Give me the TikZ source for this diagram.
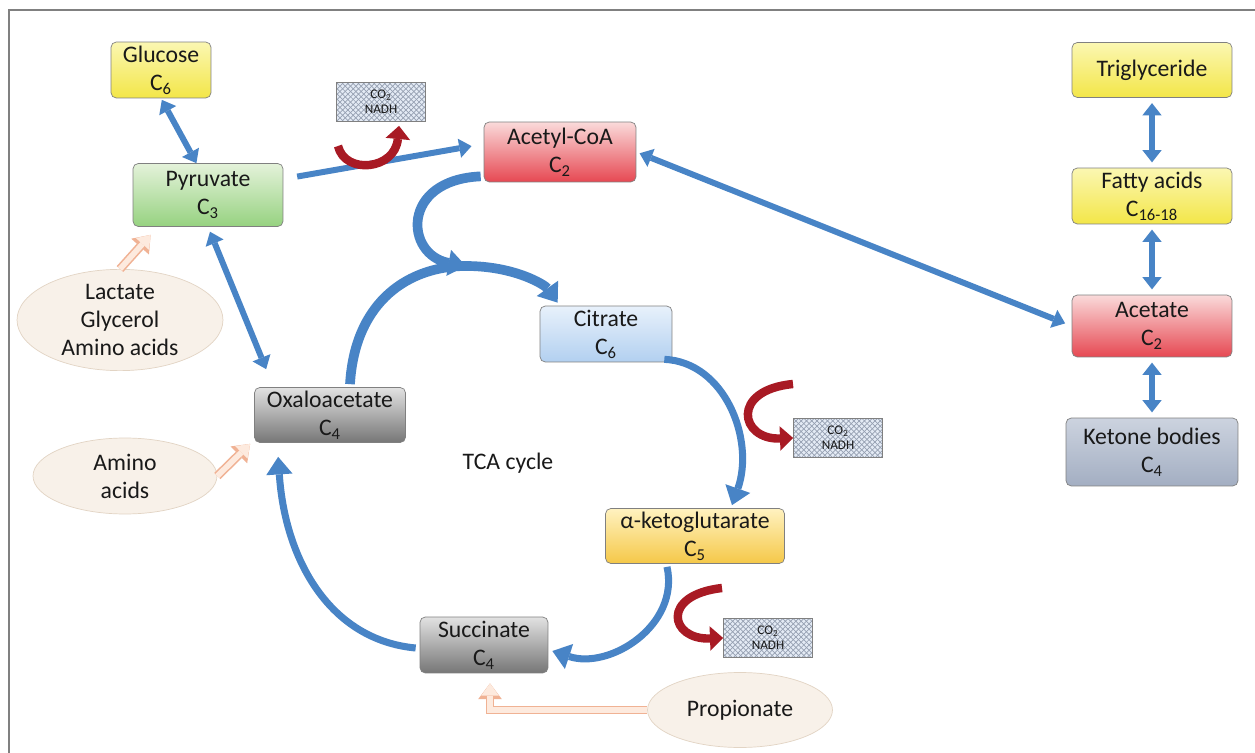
\documentclass[tikz,border=0pt]{standalone}
\usepackage{fontspec}
\setmainfont{Carlito}
\usetikzlibrary{arrows.meta, calc, patterns, shapes.geometric}

\definecolor{boxedge}{RGB}{128,128,128}
\definecolor{arrowblue}{RGB}{72,132,198}
\definecolor{arrowred}{RGB}{168,26,36}
\definecolor{feedfill}{RGB}{253,234,222}
\definecolor{feededge}{RGB}{240,178,148}
\definecolor{srcfill}{RGB}{248,241,233}
\definecolor{srcedge}{RGB}{226,212,196}
\definecolor{co2bg}{RGB}{228,235,245}
\definecolor{co2dot}{RGB}{150,160,178}

\begin{document}
\begin{tikzpicture}[x=0.02cm, y=-0.02cm,
    every node/.style={font=\fontsize{13.5}{16}\selectfont, align=center, text=black!90},
    box/.style={draw=boxedge, rounded corners=3pt, inner sep=1pt},
    yellowbox/.style={box, top color={rgb,255:red,251;green,247;blue,178}, bottom color={rgb,255:red,243;green,230;blue,72}},
    greenbox/.style={box, top color={rgb,255:red,228;green,242;blue,218}, bottom color={rgb,255:red,150;green,210;blue,128}},
    redbox/.style={box, top color={rgb,255:red,250;green,218;blue,218}, bottom color={rgb,255:red,230;green,72;blue,82}},
    bluebox/.style={box, top color={rgb,255:red,232;green,241;blue,251}, bottom color={rgb,255:red,178;green,208;blue,240}},
    graybox/.style={box, top color={rgb,255:red,226;green,226;blue,226}, bottom color={rgb,255:red,118;green,118;blue,118}},
    goldbox/.style={box, top color={rgb,255:red,255;green,242;blue,192}, bottom color={rgb,255:red,245;green,200;blue,72}},
    slatebox/.style={box, top color={rgb,255:red,204;green,211;blue,223}, bottom color={rgb,255:red,163;green,174;blue,194}},
    co2box/.style={draw=boxedge, font=\fontsize{7.5}{8.5}\selectfont, minimum width=1.78cm, minimum height=0.78cm, inner sep=0pt,
        preaction={fill=co2bg}, preaction={pattern=north west lines, pattern color=co2dot},
        pattern=north east lines, pattern color=co2dot},
    source/.style={ellipse, draw=srcedge, fill=srcfill, inner sep=0pt},
    dblarrow/.style={draw=arrowblue, line width=3.4pt,
        {Triangle[width=11pt,length=7pt,line width=0pt]}-{Triangle[width=11pt,length=7pt,line width=0pt]}},
    fwdarrow/.style={draw=arrowblue, line width=3.4pt, -{Triangle[width=11pt,length=7pt,line width=0pt]}},
    cyclearrow/.style={draw=arrowblue, line width=4pt, -{Triangle[width=15pt,length=10pt,line width=0pt]}},
    co2arrow/.style={draw=arrowred, line width=4.8pt, -{Triangle[width=14pt,length=7.5pt,line width=0pt]}},
    feedarrow/.style={draw=feedfill, line width=3.2pt, -{Triangle[width=10pt,length=7pt,line width=0pt]},
        preaction={draw=feededge, line width=5pt, -{Triangle[width=13.5pt,length=9pt,line width=0pt]}}}
  ]
  \useasboundingbox (0,0) rectangle (1255,753);
  \fill[white] (0,0) rectangle (1255,753);
  \draw[gray, line width=0.8pt] (9,753) -- (9,10) -- (1255,10);

  \node[yellowbox, minimum width=2cm, minimum height=1.12cm] (glucose) at (161,70) {Glucose\\C\textsubscript{6}};
  \node[greenbox, minimum width=3cm, minimum height=1.26cm] (pyruvate) at (208,195) {Pyruvate\\C\textsubscript{3}};
  \node[co2box] (co2a) at (381,102) {CO\textsubscript{2}\\NADH};
  \node[redbox, minimum width=3.04cm, minimum height=1.2cm] (acetyl) at (560,152) {Acetyl-CoA\\C\textsubscript{2}};
  \node[bluebox, minimum width=2.64cm, minimum height=1.12cm] (citrate) at (606,334) {Citrate\\C\textsubscript{6}};
  \node[graybox, minimum width=3.02cm, minimum height=1.1cm] (oxalo) at (330,415) {Oxaloacetate\\C\textsubscript{4}};
  \node[co2box] (co2b) at (838,438) {CO\textsubscript{2}\\NADH};
  \node[goldbox, minimum width=3.58cm, minimum height=1.1cm] (akg) at (695,536) {α-ketoglutarate\\C\textsubscript{5}};
  \node[co2box] (co2c) at (768,638) {CO\textsubscript{2}\\NADH};
  \node[graybox, minimum width=2.56cm, minimum height=1.12cm] (succinate) at (484,645) {Succinate\\C\textsubscript{4}};
  \node (tca) at (508,463) {TCA cycle};

  \node[source, minimum width=4.12cm, minimum height=2cm] (lactate) at (120,320) {Lactate\\Glycerol\\Amino acids};
  \node[source, minimum width=3.68cm, minimum height=1.52cm] (amino) at (125,476) {Amino\\acids};
  \node[source, minimum width=3.7cm, minimum height=1.5cm] (propionate) at (740,710) {Propionate};

  \node[yellowbox, minimum width=3.2cm, minimum height=1.1cm] (trig) at (1152,70) {Triglyceride};
  \node[yellowbox, minimum width=3.2cm, minimum height=1.12cm] (fatty) at (1152,196) {Fatty acids\\C\textsubscript{16-18}};
  \node[redbox, minimum width=3.2cm, minimum height=1.24cm] (acetate) at (1152,326) {Acetate\\C\textsubscript{2}};
  \node[slatebox, minimum width=3.44cm, minimum height=1.36cm] (ketone) at (1152,452) {Ketone bodies\\C\textsubscript{4}};

  \draw[dblarrow, shorten <=1pt] (glucose.south) -- (pyruvate.110);
  \draw[fwdarrow, shorten <=8pt, shorten >=7pt] (pyruvate.12) -- (acetyl.174);
  \draw[dblarrow, shorten <=2pt, shorten >=4pt] (acetyl.east) -- (acetate.west);
  \draw[dblarrow, shorten <=3pt] (pyruvate.south) -- ($(oxalo.north west)+(12,-18)$);
  \draw[dblarrow, shorten <=3pt, shorten >=3pt] (trig.south) -- (fatty.north);
  \draw[dblarrow, shorten <=3pt, shorten >=3pt] (fatty.south) -- (acetate.north);
  \draw[dblarrow, shorten <=3pt, shorten >=3pt] (acetate.south) -- (ketone.north);

  \coordinate (r1) at (338,146);
  \coordinate (r2) at (793,384);
  \coordinate (r3) at (722,588);
  \draw[co2arrow] (r1) .. controls (345,175) and (395,170) .. ($(co2a.south)+(18,4)$);
  \draw[co2arrow] (r2) .. controls (730,390) and (740,440) .. (co2b.west);
  \draw[co2arrow] (r3) .. controls (660,595) and (670,640) .. (co2c.west);

  \coordinate (join) at (466,266);
  \draw[cyclearrow, line width=5.5pt] ($(acetyl.south west)+(-3,-6)$) .. controls (400,180) and (405,255) .. (join);
  \draw[cyclearrow, line width=5.5pt] ($(oxalo.north)+(20,-3)$) .. controls (355,300) and (410,266) .. (join)
    .. controls (515,266) and (545,285) .. ($(citrate.north west)+(18,-3)$);
  \draw[cyclearrow] ($(citrate.south east)+(-8,-3)$) .. controls (725,362) and (755,440) .. ($(akg.north)+(37,-3)$);
  \draw[cyclearrow] ($(akg.south)+(-28,3)$) .. controls (680,625) and (610,670) .. ($(succinate.east)+(4,6)$);
  \draw[cyclearrow] ($(succinate.west)+(-4,3)$) .. controls (330,640) and (285,560) .. ($(oxalo.south west)+(24,14)$);

  \draw[feedarrow] (lactate.north) -- ($(pyruvate.south west)+(18,8)$);
  \draw[feedarrow] (amino.east) -- ($(oxalo.south west)+(-4,1)$);
  \draw[feedarrow] (propionate.west) -| ($(succinate.south)+(6,10)$);
\end{tikzpicture}
\end{document}
